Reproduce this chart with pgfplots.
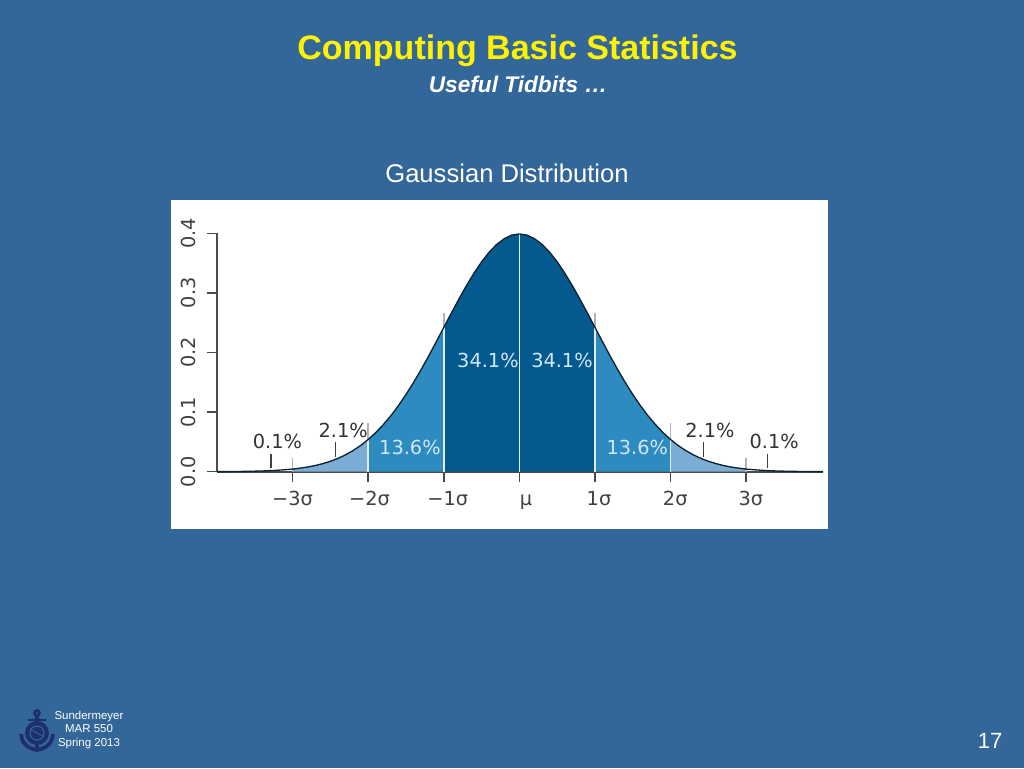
\documentclass[border=0pt]{standalone}
\usepackage{pgfplots}
\usepackage{pgfplotstable}
\usepackage{fontspec}
\pgfplotsset{compat=1.18}
\setmainfont{Liberation Sans}
\newfontfamily\dejavu{DejaVu Sans}

\definecolor{slide}{HTML}{336699}
\definecolor{sdark}{HTML}{04598F}
\definecolor{smid}{HTML}{2E8BC0}
\definecolor{slight}{HTML}{7BACD3}
\definecolor{inklabel}{HTML}{D2E8F6}
\definecolor{axisgray}{HTML}{4A4A4A}
\definecolor{navy}{HTML}{1C2F6E}

% normal curve
\pgfplotstableread{
x y
-4.0 0.0001
-3.8 0.0003
-3.6 0.0006
-3.4 0.0012
-3.2 0.0024
-3.0 0.0044
-2.9 0.0060
-2.8 0.0079
-2.7 0.0104
-2.6 0.0136
-2.5 0.0175
-2.4 0.0224
-2.3 0.0283
-2.2 0.0355
-2.1 0.0440
-2.0 0.0540
-1.9 0.0656
-1.8 0.0790
-1.7 0.0940
-1.6 0.1109
-1.5 0.1295
-1.4 0.1497
-1.3 0.1714
-1.2 0.1942
-1.1 0.2179
-1.0 0.2420
-0.9 0.2661
-0.8 0.2897
-0.7 0.3123
-0.6 0.3332
-0.5 0.3521
-0.4 0.3683
-0.3 0.3814
-0.2 0.3910
-0.1 0.3970
0.0 0.3989
0.1 0.3970
0.2 0.3910
0.3 0.3814
0.4 0.3683
0.5 0.3521
0.6 0.3332
0.7 0.3123
0.8 0.2897
0.9 0.2661
1.0 0.2420
1.1 0.2179
1.2 0.1942
1.3 0.1714
1.4 0.1497
1.5 0.1295
1.6 0.1109
1.7 0.0940
1.8 0.0790
1.9 0.0656
2.0 0.0540
2.1 0.0440
2.2 0.0355
2.3 0.0283
2.4 0.0224
2.5 0.0175
2.6 0.0136
2.7 0.0104
2.8 0.0079
2.9 0.0060
3.0 0.0044
3.2 0.0024
3.4 0.0012
3.6 0.0006
3.8 0.0003
4.016 0.0001
}\curve

\begin{document}
\begin{tikzpicture}
\begin{scope}[x=0.75pt,y=-0.75pt]
\fill[slide] (0,0) rectangle (1024,768);
\fill[white] (170.5,200) rectangle (828,529);
\node[text=yellow,font=\bfseries\fontsize{25.5pt}{28pt}\selectfont] at (517.5,51) {Computing Basic Statistics};
\node[text=white,font=\bfseries\itshape\fontsize{17pt}{20pt}\selectfont] at (518,84) {Useful Tidbits …};
\node[text=white,font=\fontsize{19.2pt}{23pt}\selectfont] at (507,173) {Gaussian Distribution};
\node[text=white,font=\fontsize{8.6pt}{10pt}\selectfont,align=center] at (89,730) {Sundermeyer\\MAR 550\\Spring 2013};
\node[text=white,font=\fontsize{16.5pt}{20pt}\selectfont] at (990,741) {17};
% anchor logo
\draw[navy,line width=2] (37,713) circle (2.5);
\draw[navy,line width=2.4] (37,716) -- (37,750);
\draw[navy,line width=2] (28,720) -- (46,720);
\draw[navy,line width=2.8] (21,734) .. controls (22,746) and (31,749) .. (37,750) .. controls (43,749) and (52,746) .. (53,734);
\fill[navy] (37,733) circle (12);
\draw[slide,line width=0.8] (37,733) circle (7);
\draw[slide,line width=0.6] (30,729) -- (44,737);
\end{scope}
\begin{axis}[
    at={(162.75pt,-353.775pt)},
    anchor=south west,
    scale only axis,
    width=454.5pt,
    height=178.8pt,
    xmin=-4, xmax=4.016,
    ymin=0, ymax=0.4,
    axis lines=left,
    axis line style={-,axisgray,line width=1.3pt},
    clip=false,
    tick align=outside,
    major tick length=7.5pt,
    tick style={axisgray,line width=1.1pt},
    xtick={-3,-2,-1,0,1,2,3},
    xticklabels={−3σ,\kern2pt−2σ,\kern6pt−1σ,\kern10pt μ,\kern6pt 1σ,\kern7pt 2σ,\kern7pt 3σ},
    ytick={0,0.1,0.2,0.3,0.4},
    yticklabels={0.0,0.1,0.2,0.3,0.4},
    tick label style={font=\dejavu\fontsize{14.5pt}{17pt}\selectfont,text=black!75},
    yticklabel style={rotate=90,anchor=south,yshift=5pt},
    xticklabel style={anchor=north,yshift=-3.5pt,text height=11pt,text depth=3pt},
]
\addplot[fill=slight,draw=none,restrict x to domain=-3:-2] table[x=x,y=y] {\curve} \closedcycle;
\addplot[fill=smid,draw=none,restrict x to domain=-2:-1] table[x=x,y=y] {\curve} \closedcycle;
\addplot[fill=sdark,draw=none,restrict x to domain=-1:1] table[x=x,y=y] {\curve} \closedcycle;
\addplot[fill=smid,draw=none,restrict x to domain=1:2] table[x=x,y=y] {\curve} \closedcycle;
\addplot[fill=slight,draw=none,restrict x to domain=2:3] table[x=x,y=y] {\curve} \closedcycle;
% gray stems above the curve
\addplot[black!30,line width=1.2pt] coordinates {(-1,0.242) (-1,0.266)};
\addplot[black!30,line width=1.2pt] coordinates {(1,0.242) (1,0.266)};
\addplot[black!30,line width=1.2pt] coordinates {(-2,0.054) (-2,0.082)};
\addplot[black!30,line width=1.2pt] coordinates {(2,0.054) (2,0.082)};
\addplot[black!30,line width=1.2pt] coordinates {(-3,0) (-3,0.023)};
\addplot[black!30,line width=1.2pt] coordinates {(3,0) (3,0.023)};
% white dividers
\addplot[white!85!smid,line width=1.3pt] coordinates {(-2,0) (-2,0.054)};
\addplot[white!85!smid,line width=1.3pt] coordinates {(-1,0) (-1,0.242)};
\addplot[white!85!smid,line width=1.3pt] coordinates {(0,0) (0,0.3989)};
\addplot[white!85!smid,line width=1.3pt] coordinates {(1,0) (1,0.242)};
\addplot[white!85!smid,line width=1.3pt] coordinates {(2,0) (2,0.054)};
\addplot[black!75!smid,line width=1pt] table[x=x,y=y] {\curve};
% leader ticks of the tail labels
\addplot[black!75,line width=1.1pt] coordinates {(-3.285,0.006) (-3.285,0.03)};
\addplot[black!75,line width=1.1pt] coordinates {(-2.435,0.025) (-2.435,0.05)};
\addplot[black!75,line width=1.1pt] coordinates {(2.433,0.025) (2.433,0.05)};
\addplot[black!75,line width=1.1pt] coordinates {(3.28,0.006) (3.28,0.03)};
\tikzset{lab/.style={font=\dejavu\fontsize{14.5pt}{17pt}\selectfont,inner sep=0pt}}
\node[lab,text=inklabel] at (axis cs:-0.416,0.1874) {34.1\%};
\node[lab,text=inklabel] at (axis cs:0.563,0.1874) {34.1\%};
\node[lab,text=inklabel] at (axis cs:-1.448,0.04) {13.6\%};
\node[lab,text=inklabel] at (axis cs:1.56,0.04) {13.6\%};
\node[lab,text=black!80] at (axis cs:-2.33,0.0688) {2.1\%};
\node[lab,text=black!80] at (axis cs:2.52,0.07) {2.1\%};
\node[lab,text=black!80] at (axis cs:-3.2,0.05) {0.1\%};
\node[lab,text=black!80] at (axis cs:3.37,0.05) {0.1\%};
\end{axis}
\path[use as bounding box] (0,0) rectangle (768pt,-576pt);
\end{tikzpicture}
\end{document}
